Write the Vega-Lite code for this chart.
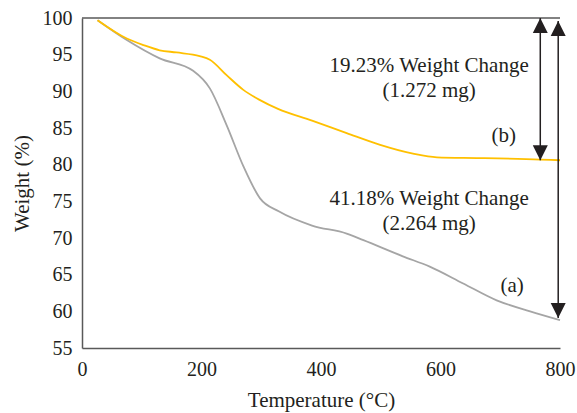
{
  "$schema": "https://vega.github.io/schema/vega-lite/v6.json",
  "width": 478,
  "height": 330,
  "autosize": "none",
  "padding": {"left": 82, "top": 18, "right": 17, "bottom": 65},
  "config": {
    "view": {"stroke": null},
    "font": "Liberation Serif",
    "axis": {
      "labelFont": "Liberation Serif",
      "titleFont": "Liberation Serif",
      "labelColor": "#231F20",
      "titleColor": "#231F20",
      "labelFontSize": 20,
      "titleFontSize": 21,
      "titleFontWeight": "normal",
      "domainColor": "#595959",
      "domainWidth": 1.5,
      "ticks": false,
      "grid": false,
      "labelOverlap": false
    },
    "axisY": {"labelOverlap": false},
    "axisQuantitative": {"labelOverlap": false}
  },
  "datasets": {
    "curves": [
      {"t": 26, "w": 99.7, "s": "a"},
      {"t": 75, "w": 97.0, "s": "a"},
      {"t": 130, "w": 94.5, "s": "a"},
      {"t": 186, "w": 92.8, "s": "a"},
      {"t": 214, "w": 90.4, "s": "a"},
      {"t": 242, "w": 85.4, "s": "a"},
      {"t": 270, "w": 79.8, "s": "a"},
      {"t": 298, "w": 75.4, "s": "a"},
      {"t": 330, "w": 73.6, "s": "a"},
      {"t": 385, "w": 71.7, "s": "a"},
      {"t": 443, "w": 70.6, "s": "a"},
      {"t": 471, "w": 69.7, "s": "a"},
      {"t": 537, "w": 67.5, "s": "a"},
      {"t": 582, "w": 66.1, "s": "a"},
      {"t": 638, "w": 63.8, "s": "a"},
      {"t": 694, "w": 61.5, "s": "a"},
      {"t": 750, "w": 60.0, "s": "a"},
      {"t": 800, "w": 58.8, "s": "a"},
      {"t": 26, "w": 99.7, "s": "b"},
      {"t": 75, "w": 97.2, "s": "b"},
      {"t": 103, "w": 96.3, "s": "b"},
      {"t": 130, "w": 95.6, "s": "b"},
      {"t": 158, "w": 95.3, "s": "b"},
      {"t": 197, "w": 94.8, "s": "b"},
      {"t": 214, "w": 94.3, "s": "b"},
      {"t": 242, "w": 92.2, "s": "b"},
      {"t": 270, "w": 90.2, "s": "b"},
      {"t": 298, "w": 88.8, "s": "b"},
      {"t": 328, "w": 87.6, "s": "b"},
      {"t": 385, "w": 86.0, "s": "b"},
      {"t": 443, "w": 84.3, "s": "b"},
      {"t": 499, "w": 82.7, "s": "b"},
      {"t": 554, "w": 81.5, "s": "b"},
      {"t": 594, "w": 81.0, "s": "b"},
      {"t": 666, "w": 80.9, "s": "b"},
      {"t": 767, "w": 80.7, "s": "b"},
      {"t": 800, "w": 80.6, "s": "b"}
    ],
    "shafts": [
      {"t": 767, "w": 100, "w2": 80.6},
      {"t": 797, "w": 99.6, "w2": 59.1}
    ],
    "heads": [
      {"t": 767, "w": 100, "dir": "up"},
      {"t": 767, "w": 80.6, "dir": "down"},
      {"t": 797, "w": 99.6, "dir": "up"},
      {"t": 797, "w": 59.1, "dir": "down"}
    ],
    "labels": [
      {"t": 581, "w": 92.68, "txt": "19.23% Weight Change"},
      {"t": 581, "w": 89.19, "txt": "(1.272 mg)"},
      {"t": 706, "w": 83.13, "txt": "(b)"},
      {"t": 581, "w": 74.5, "txt": "41.18% Weight Change"},
      {"t": 581, "w": 71.09, "txt": "(2.264 mg)"},
      {"t": 720, "w": 62.68, "txt": "(a)"}
    ],
    "top": [{"t": 0, "t2": 800, "w": 100}]
  },
  "encoding": {
    "x": {
      "field": "t", "type": "quantitative",
      "scale": {"domain": [0, 800], "nice": false, "zero": false},
      "axis": {"values": [0, 200, 400, 600, 800], "title": "Temperature (°C)", "labelPadding": 11, "titlePadding": 10, "labelOverlap": false, "labelFlush": false}
    },
    "y": {
      "field": "w", "type": "quantitative",
      "scale": {"domain": [55, 100], "nice": false, "zero": false},
      "axis": {"values": [55, 60, 65, 70, 75, 80, 85, 90, 95, 100], "tickCount": 10, "title": "Weight (%)", "labelPadding": 10, "titlePadding": 10, "labelOverlap": false, "labelFlush": false, "labelBound": false}
    }
  },
  "layer": [
    {
      "data": {"name": "top"},
      "mark": {"type": "rule", "color": "#595959", "strokeWidth": 1.5},
      "encoding": {
        "x2": {"field": "t2"}
      }
    },
    {
      "data": {"name": "curves"},
      "mark": {"type": "line", "interpolate": "monotone", "strokeWidth": 1.8},
      "encoding": {
        "color": {
          "field": "s", "type": "nominal",
          "scale": {"domain": ["a", "b"], "range": ["#A5A5A5", "#FFC000"]},
          "legend": null
        }
      }
    },
    {
      "data": {"name": "shafts"},
      "mark": {"type": "rule", "color": "#231F20", "strokeWidth": 1.5},
      "encoding": {
        "y2": {"field": "w2"}
      }
    },
    {
      "data": {"name": "heads"},
      "mark": {"type": "point", "filled": true, "color": "#231F20", "opacity": 1, "size": 225},
      "encoding": {
        "shape": {
          "field": "dir", "type": "nominal",
          "scale": {"domain": ["up", "down"], "range": ["M0,0L-1,2L1,2Z", "M0,0L-1,-2L1,-2Z"]},
          "legend": null
        }
      }
    },
    {
      "data": {"name": "labels"},
      "mark": {"type": "text", "font": "Liberation Serif", "fontSize": 21, "color": "#231F20", "align": "center", "baseline": "alphabetic"},
      "encoding": {
        "text": {"field": "txt"}
      }
    }
  ]
}
